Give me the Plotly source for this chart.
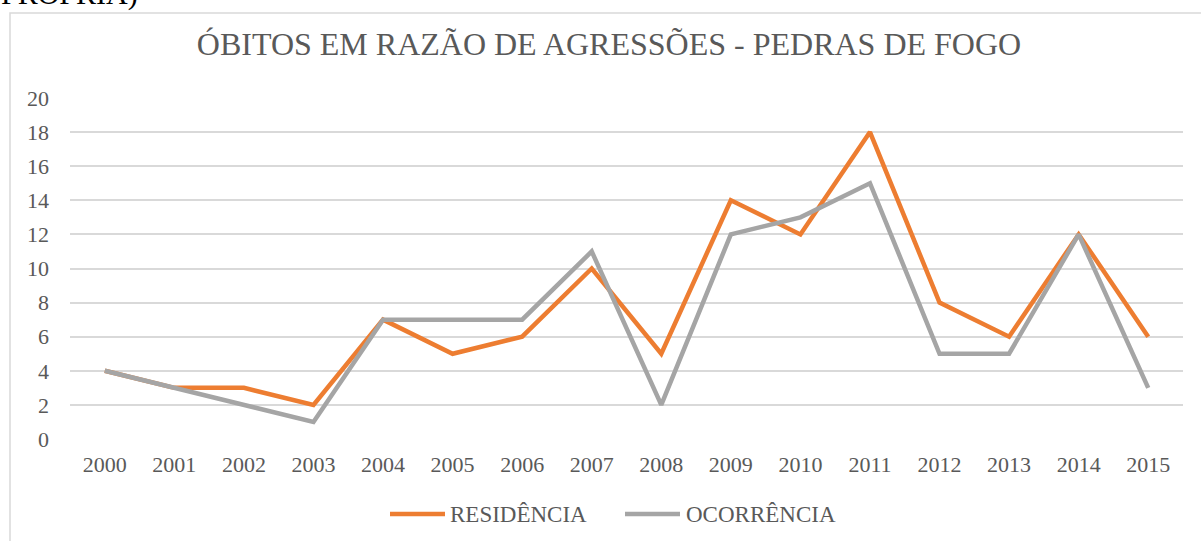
import plotly.graph_objects as go

years = ["2000", "2001", "2002", "2003", "2004", "2005", "2006", "2007",
         "2008", "2009", "2010", "2011", "2012", "2013", "2014", "2015"]
residencia = [4, 3, 3, 2, 7, 5, 6, 10, 5, 14, 12, 18, 8, 6, 12, 6]
ocorrencia = [4, 3, 2, 1, 7, 7, 7, 11, 2, 12, 13, 15, 5, 5, 12, 3]
y_ticks = [0, 2, 4, 6, 8, 10, 12, 14, 16, 18, 20]
series_names = ["RESIDÊNCIA", "OCORRÊNCIA"]
series_colors = ["#ED7D31", "#A5A5A5"]

W, H = 1201, 541
L, R, T, B = 70, 18, 98, 102
pw, ph = W - L - R, H - T - B

def px_x(x):
    return (x - L) / pw

def px_y(y):
    return (H - B - y) / ph

FONT = "Liberation Serif"
TXT = "#595959"

fig = go.Figure()
for name, vals, col in zip(series_names, [residencia, ocorrencia], series_colors):
    fig.add_trace(go.Scatter(x=years, y=vals, mode="lines", name=name,
                             line=dict(color=col, width=4.5), showlegend=False))

# manual legend (Excel-style long line samples)
legend_items = [(390, 445, 448), (625, 680, 684)]
shapes = [dict(type="rect", xref="paper", yref="paper",
               x0=px_x(10), x1=px_x(1300), y0=px_y(13), y1=px_y(700),
               line=dict(color="#D9D9D9", width=1.5), layer="below")]
annotations = [dict(text="PRÓPRIA)", xref="paper", yref="paper",
                    x=px_x(-1), xanchor="left", y=px_y(13), yanchor="bottom",
                    showarrow=False, font=dict(family=FONT, size=30, color="black"))]
ly = px_y(514)
for (x0, x1, tx), name, col in zip(legend_items, series_names, series_colors):
    shapes.append(dict(type="line", xref="paper", yref="paper",
                       x0=px_x(x0), x1=px_x(x1), y0=ly, y1=ly,
                       line=dict(color=col, width=4.5)))
    annotations.append(dict(text=name, xref="paper", yref="paper",
                            x=px_x(tx), xanchor="left", y=ly, yanchor="middle",
                            showarrow=False, font=dict(family=FONT, size=23, color=TXT)))

fig.update_layout(
    width=W, height=H,
    margin=dict(l=L, r=R, t=T, b=B, autoexpand=False),
    paper_bgcolor="white", plot_bgcolor="white",
    font=dict(family=FONT, color=TXT, size=22),
    title=dict(text="ÓBITOS EM RAZÃO DE AGRESSÕES - PEDRAS DE FOGO",
               x=609 / W, xanchor="center", y=1 - 44 / H, yanchor="middle",
               font=dict(family=FONT, size=32, color=TXT)),
    xaxis=dict(type="category", range=[-0.5, len(years) - 0.5], showgrid=False,
               showline=False, ticks="", tickfont=dict(family=FONT, size=22, color=TXT),
               ticklabelstandoff=10),
    yaxis=dict(range=[0, 20], tickvals=y_ticks, showgrid=True, gridcolor="#D9D9D9",
               gridwidth=1.8, zeroline=False, showline=False, ticks="",
               tickfont=dict(family=FONT, size=22, color=TXT), ticklabelstandoff=20),
    showlegend=False,
    shapes=shapes,
    annotations=annotations,
)

fig.write_html("out.html", config={"displayModeBar": False},
               post_script="document.body.style.margin='0';document.body.style.overflow='hidden';")
